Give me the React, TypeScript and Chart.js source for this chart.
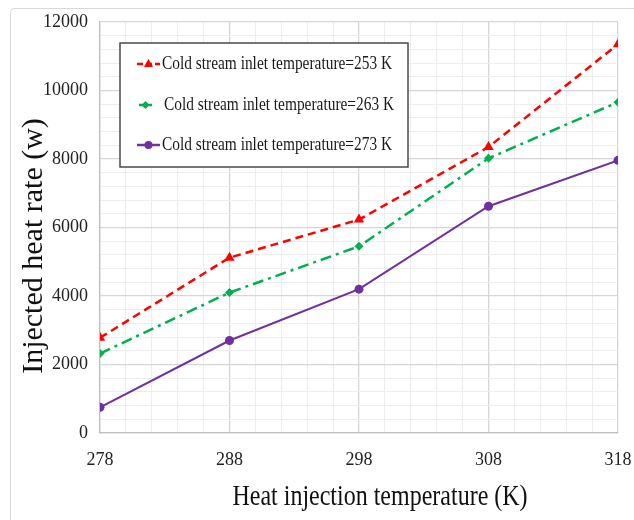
import React, { useEffect, useRef } from "react";
import { Chart, registerables } from "chart.js";

Chart.register(...registerables);

const temperatures = [278, 288, 298, 308, 318];
const series253 = [2780, 5120, 6230, 8350, 11350];
const series263 = [2320, 4100, 5450, 8020, 9660];
const series273 = [750, 2700, 4200, 6620, 7960];
const seriesLabels = [
  "Cold stream inlet temperature=253 K",
  "Cold stream inlet temperature=263 K",
  "Cold stream inlet temperature=273 K",
];
const xTitle = "Heat injection temperature (K)";
const yTitle = "Injected heat rate (w)";

const RED = "#ff0000";
const GREEN = "#00b050";
const PURPLE = "#7030a0";
const SERIF = "'Liberation Serif', 'Times New Roman', serif";

const toPoints = (ys: number[]) => temperatures.map((x, i) => ({ x, y: ys[i] }));

const customPlugin = {
  id: "customText",
  afterDraw(chart: any) {
    const ctx = chart.ctx as CanvasRenderingContext2D;
    ctx.save();
    ctx.fillStyle = "#111";
    ctx.font = `30px ${SERIF}`;
    ctx.textAlign = "center";
    ctx.textBaseline = "alphabetic";
    ctx.translate(380, 505);
    ctx.scale(0.8, 1);
    ctx.fillText(xTitle, 0, 0);
    ctx.restore();

    ctx.save();
    ctx.fillStyle = "#111";
    ctx.font = `30px ${SERIF}`;
    ctx.textAlign = "center";
    ctx.textBaseline = "alphabetic";
    ctx.translate(42, 246);
    ctx.rotate(-Math.PI / 2);
    ctx.fillText(yTitle, 0, 0);
    ctx.restore();

    const bx = 120, by = 43, bw = 288, bh = 124;
    ctx.save();
    ctx.fillStyle = "#ffffff";
    ctx.fillRect(bx, by, bw, bh);
    ctx.strokeStyle = "#4a4a4a";
    ctx.lineWidth = 1.5;
    ctx.strokeRect(bx, by, bw, bh);
    const rows = [64, 105, 145];
    const colors = [RED, GREEN, PURPLE];
    const dashes = [[6, 3], [], []];
    rows.forEach((ry, i) => {
      ctx.save();
      ctx.strokeStyle = colors[i];
      ctx.lineWidth = 2.5;
      ctx.setLineDash(dashes[i]);
      ctx.beginPath();
      if (i === 1) {
        ctx.moveTo(139, ry);
        ctx.lineTo(152, ry);
      } else {
        ctx.moveTo(137, ry);
        ctx.lineTo(160, ry);
      }
      ctx.stroke();
      ctx.restore();
      ctx.fillStyle = colors[i];
      ctx.beginPath();
      if (i === 0) {
        ctx.moveTo(148.5, ry - 5);
        ctx.lineTo(153, ry + 3);
        ctx.lineTo(144, ry + 3);
        ctx.closePath();
      } else if (i === 1) {
        const cx = 145.5;
        ctx.moveTo(cx, ry - 4);
        ctx.lineTo(cx + 4, ry);
        ctx.lineTo(cx, ry + 4);
        ctx.lineTo(cx - 4, ry);
        ctx.closePath();
      } else {
        ctx.arc(148.5, ry, 4, 0, Math.PI * 2);
      }
      ctx.fill();
      ctx.save();
      ctx.fillStyle = "#1a1a1a";
      ctx.font = `19px ${SERIF}`;
      ctx.textAlign = "left";
      ctx.textBaseline = "middle";
      ctx.translate(i === 1 ? 164 : 162, ry);
      ctx.scale(0.81, 1);
      ctx.fillText(seriesLabels[i], 0, 0);
      ctx.restore();
    });
    ctx.restore();
  },
};

export default function App() {
  const ref = useRef<HTMLCanvasElement | null>(null);

  useEffect(() => {
    if (!ref.current) return;
    const chart = new Chart(ref.current, {
      type: "line",
      data: {
        datasets: [
          {
            label: seriesLabels[0],
            data: toPoints(series253),
            borderColor: RED,
            backgroundColor: RED,
            borderWidth: 2.5,
            borderDash: [8, 5],
            pointStyle: "triangle",
            pointRadius: 6,
            pointBorderWidth: 0,
            tension: 0,
          },
          {
            label: seriesLabels[1],
            data: toPoints(series263),
            borderColor: GREEN,
            backgroundColor: GREEN,
            borderWidth: 2.5,
            borderDash: [11, 5, 3, 5],
            pointStyle: "rectRot",
            pointRadius: 4.5,
            pointBorderWidth: 0,
            tension: 0,
          },
          {
            label: seriesLabels[2],
            data: toPoints(series273),
            borderColor: PURPLE,
            backgroundColor: PURPLE,
            borderWidth: 2,
            pointStyle: "circle",
            pointRadius: 4.5,
            pointBorderWidth: 0,
            tension: 0,
          },
        ],
      },
      options: {
        animation: false,
        responsive: false,
        maintainAspectRatio: false,
        layout: { padding: { left: 0, right: 16, top: 22, bottom: 0 } },
        plugins: { legend: { display: false }, tooltip: { enabled: false } },
        scales: {
          x: {
            type: "linear",
            min: 278,
            max: 318,
            afterFit: (s: any) => {
              s.height = 87;
              s.paddingLeft = 0;
              s.paddingRight = 0;
            },
            ticks: {
              stepSize: 2,
              autoSkip: false,
              maxRotation: 0,
              padding: 16,
              color: "#222",
              font: { family: SERIF, size: 18 },
              callback: (v: any) => ((v - 278) % 10 === 0 ? String(v) : ""),
            },
            grid: {
              drawTicks: false,
              color: (c: any) => ((c.tick.value - 278) % 10 === 0 ? "#d6d6d6" : "#ededed"),
              lineWidth: (c: any) => ((c.tick.value - 278) % 10 === 0 ? 1.3 : 1),
            },
            border: { color: "#bfbfbf", width: 1.3 },
          },
          y: {
            min: 0,
            max: 12000,
            afterFit: (s: any) => {
              s.width = 100;
              s.paddingTop = 0;
              s.paddingBottom = 0;
            },
            ticks: {
              stepSize: 400,
              autoSkip: false,
              padding: 12,
              color: "#222",
              font: { family: SERIF, size: 18 },
              callback: (v: any) => (v % 2000 === 0 ? String(v) : ""),
            },
            grid: {
              drawTicks: false,
              color: (c: any) => (c.tick.value % 2000 === 0 ? "#d6d6d6" : "#ededed"),
              lineWidth: (c: any) => (c.tick.value % 2000 === 0 ? 1.3 : 1),
            },
            border: { color: "#bfbfbf", width: 1.3 },
          },
        },
      },
      plugins: [customPlugin],
    });
    return () => chart.destroy();
  }, []);

  return (
    <div style={{ position: "absolute", left: 0, top: 0, width: 634, height: 520, background: "#fff", overflow: "hidden" }}>
      <div
        style={{
          position: "absolute",
          left: 10,
          top: 8,
          width: 660,
          height: 560,
          border: "1px solid #d9d9d9",
          borderRadius: 4,
        }}
      />
      <canvas ref={ref} width={634} height={520} style={{ position: "absolute", left: 0, top: 0 }} />
    </div>
  );
}
